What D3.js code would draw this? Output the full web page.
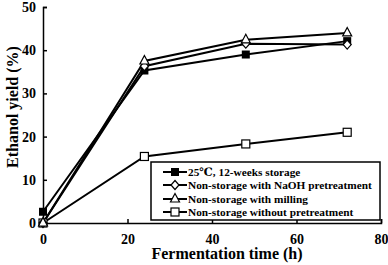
<!DOCTYPE html>
<html><head><meta charset="utf-8">
<script src="https://cdn.jsdelivr.net/npm/d3@7"></script>
<style>body{margin:0;background:#fff}svg{display:block}</style>
</head><body><svg id="c" width="388" height="265"></svg>
<script>
const times = [0, 24, 48, 72];
const storage25 = [2.6, 35.3, 39.0, 42.1];
const naoh = [0, 36.3, 41.5, 41.3];
const milling = [0, 37.5, 42.4, 44.0];
const nopre = [0, 15.4, 18.3, 21.0];
const seriesNames = ["25\u2103, 12-weeks storage", "Non-storage with NaOH pretreatment", "Non-storage with milling", "Non-storage without pretreatment"];
const seriesMarkers = ["fsquare", "diamond", "triangle", "osquare"];
const xTicks = [0, 20, 40, 60, 80];
const yTicks = [0, 10, 20, 30, 40, 50];

const FONT = "Liberation Serif, Times New Roman, DejaVu Serif, serif";
const series = [storage25, naoh, milling, nopre].map((v, i) => ({name: seriesNames[i], marker: seriesMarkers[i], values: v}));
const svg = d3.select("#c");
const x = d3.scaleLinear().domain([0, 80]).range([43, 381]);
const y = d3.scaleLinear().domain([0, 50]).range([223, 7]);

const gx = svg.append("g").attr("transform", `translate(0,${y(0)})`)
  .call(d3.axisBottom(x).tickValues(xTicks).tickSize(-4).tickPadding(10).tickFormat(d3.format("d")));
const gy = svg.append("g").attr("transform", `translate(${x(0)},0)`)
  .call(d3.axisLeft(y).tickValues(yTicks).tickSize(-4).tickPadding(7).tickFormat(d3.format("d")));
[gx, gy].forEach(g => {
  g.attr("font-family", FONT).attr("font-size", 14).attr("font-weight", "bold");
  g.select(".domain").attr("stroke", "#000").attr("stroke-width", 1.5);
  g.selectAll(".tick line").attr("stroke", "#000").attr("stroke-width", 1.5);
  g.selectAll(".tick text").attr("fill", "#000");
});
gx.selectAll(".tick text").attr("dy", "0.75em");

svg.append("text").attr("x", 227).attr("y", 259).attr("text-anchor", "middle")
  .attr("font-family", FONT).attr("font-weight", "bold").attr("font-size", 16).text("Fermentation time (h)");
svg.append("text").attr("transform", "translate(18,107) rotate(-90)").attr("text-anchor", "middle")
  .attr("font-family", FONT).attr("font-weight", "bold").attr("font-size", 16).text("Ethanol yield (%)");

const line = d3.line().x((d, i) => x(times[i])).y(d => y(d));

function marker(g, type, cx, cy) {
  if (type === "fsquare") g.append("rect").attr("x", cx - 4).attr("y", cy - 4).attr("width", 8).attr("height", 8).attr("fill", "#000");
  else if (type === "osquare") g.append("rect").attr("x", cx - 4).attr("y", cy - 4).attr("width", 8).attr("height", 8).attr("fill", "#fff").attr("stroke", "#000").attr("stroke-width", 1.2);
  else if (type === "diamond") g.append("path").attr("d", `M${cx},${cy - 4.5}L${cx + 4},${cy}L${cx},${cy + 4.5}L${cx - 4},${cy}Z`).attr("fill", "#fff").attr("stroke", "#000").attr("stroke-width", 1.2);
  else if (type === "triangle") g.append("path").attr("d", `M${cx},${cy - 5.5}L${cx + 4.5},${cy + 3}L${cx - 4.5},${cy + 3}Z`).attr("fill", "#fff").attr("stroke", "#000").attr("stroke-width", 1.2);
}

const drawOrder = [3, 0, 1, 2];
drawOrder.forEach(i => {
  svg.append("path").attr("d", line(series[i].values)).attr("fill", "none").attr("stroke", "#000").attr("stroke-width", 2);
});
drawOrder.forEach(i => {
  const s = series[i];
  const g = svg.append("g");
  s.values.forEach((v, j) => marker(g, s.marker, x(times[j]), y(v)));
});

const lg = svg.append("g");
lg.append("rect").attr("x", 151).attr("y", 162).attr("width", 229).attr("height", 58).attr("fill", "#fff").attr("stroke", "#000").attr("stroke-width", 1.5);
const rowY = [172, 185, 199, 212];
series.forEach((s, i) => {
  lg.append("line").attr("x1", 163).attr("x2", 187).attr("y1", rowY[i]).attr("y2", rowY[i]).attr("stroke", "#000").attr("stroke-width", 2);
  marker(lg, s.marker, 175, rowY[i]);
  lg.append("text").attr("x", 188).attr("y", rowY[i]).attr("dy", "0.35em")
    .attr("font-family", FONT).attr("font-weight", "bold").attr("font-size", 11.3).text(s.name);
});
</script></body></html>
